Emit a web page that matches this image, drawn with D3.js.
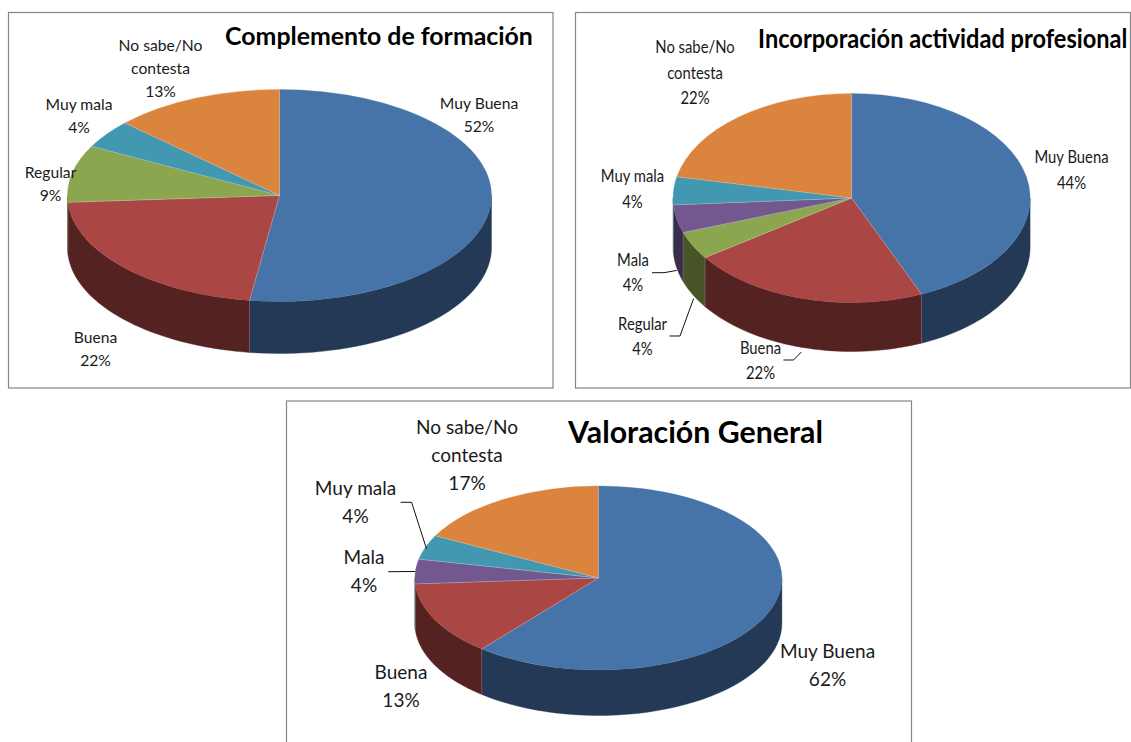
<!DOCTYPE html>
<html lang="es">

<head>
    <meta charset="UTF-8">
    <title>Valoración</title>
    <script src="https://d3js.org/d3.v7.min.js"></script>
    <style>
        body { margin: 0; background: #fff; }
        svg { display: block; }
        text { font-family: Lato, "Open Sans", sans-serif; fill: #1a1a1a; }
    </style>
</head>

<body>
    <div id="container"></div>

    <script type="text/javascript">

        // data: vals = slice sizes as drawn, pcts = what the labels print
        const complementoTitle = "Complemento de formación";
        const complementoCats = ["Muy Buena", "Buena", "Regular", "Muy mala", "No sabe/No contesta"];
        const complementoVals = [52.2, 21.7, 8.7, 4.3, 13];
        const complementoPcts = [52, 22, 9, 4, 13];

        const incorporacionTitle = "Incorporación actividad profesional";
        const incorporacionCats = ["Muy Buena", "Buena", "Regular", "Mala", "Muy mala", "No sabe/No contesta"];
        const incorporacionVals = [43.5, 21.7, 4.3, 4.3, 4.3, 21.7];
        const incorporacionPcts = [44, 22, 4, 4, 4, 22];

        const generalTitle = "Valoración General";
        const generalCats = ["Muy Buena", "Buena", "Mala", "Muy mala", "No sabe/No contesta"];
        const generalVals = [60.9, 13, 4.3, 4.3, 17.4];
        const generalPcts = [62, 13, 4, 4, 17];

        // category order of the whole figure, drives the colour scales
        const allCats = ["Muy Buena", "Buena", "Regular", "Mala", "Muy mala", "No sabe/No contesta"];
        const topColors = ["#4673a8", "#aa4644", "#8ba64f", "#72588e", "#4198b0", "#db843d"];
        const sideColors = ["#233955", "#552222", "#465427", "#3a2d4b", "#204c58", "#6e421e"];

        const colorTop = d3.scaleOrdinal().domain(allCats).range(topColors);
        const colorSide = d3.scaleOrdinal().domain(allCats).range(sideColors);

        // layout of every panel. label = centre x, y of first line for each slice
        const charts = [
            {
                title: complementoTitle, cats: complementoCats, vals: complementoVals, pcts: complementoPcts,
                frame: [8.5, 12.5, 544.5, 375.5],
                cx: 279.5, cy: 195.5, rx: 212, ry: 106, depth: 52,
                titleBox: [225, 533, 37], titleSize: 24,
                fontSize: 15.5, refWidth: 84, lineStep: 23,
                labels: [[479, 104], [95.5, 337.5], [50.5, 172.5], [79, 105], [160.5, 46]],
                leaders: []
            },
            {
                title: incorporacionTitle, cats: incorporacionCats, vals: incorporacionVals, pcts: incorporacionPcts,
                frame: [575.5, 12.5, 555, 375.5],
                cx: 851.6, cy: 198, rx: 178.5, ry: 104.5, depth: 49,
                titleBox: [758, 1127.5, 40], titleSize: 26,
                fontSize: 17, refWidth: 79.5, lineStep: 25.5,
                labels: [[1071.5, 157.5], [760.5, 348], [642.5, 324], [633, 260], [632.5, 176.5], [695, 47.5]],
                leaders: [
                    { slice: 2, end: [1, 4], knee: [[669.5, 336], [680, 336]] },
                    { slice: 3, end: [0, 2.5], knee: [[652, 272.7], [664, 272.7]] },
                    { slice: 1, end: [-1, 4.7], knee: [[783.5, 360], [793.5, 360]] }
                ]
            },
            {
                title: generalTitle, cats: generalCats, vals: generalVals, pcts: generalPcts,
                frame: [286.5, 401, 625, 400],
                cx: 598.4, cy: 578, rx: 183.5, ry: 92, depth: 45.5,
                titleBox: [568, 823, 433.5], titleSize: 31,
                fontSize: 19.5, refWidth: 102, lineStep: 28,
                labels: [[827.5, 652], [401, 673], [364, 558], [355.5, 489], [467, 427.5]],
                leaders: [
                    { slice: 2, end: [0, 0], knee: [[388.3, 571.7]], top: true },
                    { slice: 3, end: [1, 1.5], knee: [[400.6, 502.3], [411.6, 502.3]], top: true }
                ]
            }
        ];

        const W = 1131, H = 742;

        const svg = d3.select("#container")
            .append("svg")
            .attr("width", W)
            .attr("height", H);

        const pie = d3.pie().sort(null).value(d => d.value);

        // centred text squeezed horizontally by a factor
        function squeezed(parent, t, x, y, size, factor) {
            return parent.append("text")
                .attr("transform", "translate(" + x + "," + y + ") scale(" + factor + ",1)")
                .attr("dy", "-0.06em")
                .attr("text-anchor", "middle")
                .attr("dominant-baseline", "central")
                .style("font-size", size + "px")
                .text(t);
        }

        charts.forEach(function (c) {
            const g = svg.append("g");

            g.append("rect")
                .attr("x", c.frame[0])
                .attr("y", c.frame[1])
                .attr("width", c.frame[2])
                .attr("height", c.frame[3])
                .attr("fill", "#fff")
                .attr("stroke", "#868686")
                .attr("stroke-width", 1.2);

            const slices = pie(c.cats.map((name, i) => ({ name: name, value: c.vals[i], pct: c.pcts[i] })));

            // point on the rim for a clock angle
            const rim = a => [c.cx + c.rx * Math.sin(a), c.cy - c.ry * Math.cos(a)];

            // side wall, only the front half of the ellipse shows
            const outline = d3.line();
            slices.forEach(function (s) {
                const a0 = Math.max(s.startAngle, Math.PI / 2);
                const a1 = Math.min(s.endAngle, Math.PI * 1.5);
                if (a1 <= a0) return;
                const steps = d3.range(0, 41).map(k => a0 + (a1 - a0) * k / 40);
                const upper = steps.map(rim);
                const lower = upper.map(p => [p[0], p[1] + c.depth]).reverse();
                g.append("path")
                    .attr("d", outline(upper.concat(lower)) + "Z")
                    .attr("fill", colorSide(s.data.name))
                    .attr("stroke", colorSide(s.data.name))
                    .attr("stroke-width", 0.4);
            });

            // top face: a flat d3 arc squashed into an ellipse
            const arc = d3.arc().innerRadius(0).outerRadius(c.rx);
            const face = g.append("g")
                .attr("transform", "translate(" + c.cx + "," + c.cy + ") scale(1," + (c.ry / c.rx) + ")");
            face.selectAll("path")
                .data(slices)
                .enter()
                .append("path")
                .attr("d", arc)
                .attr("fill", d => colorTop(d.data.name))
                .attr("stroke", d => colorTop(d.data.name))
                .attr("stroke-width", 0.4);

            // thin pale seams between the slices
            slices.forEach(function (s) {
                const p = rim(s.startAngle);
                g.append("line")
                    .attr("x1", c.cx).attr("y1", c.cy)
                    .attr("x2", p[0]).attr("y2", p[1])
                    .attr("stroke", "#d5dbe4").attr("stroke-opacity", 0.5).attr("stroke-width", 0.7);
                if (Math.cos(s.startAngle) < 0) {
                    g.append("line")
                        .attr("x1", p[0]).attr("y1", p[1])
                        .attr("x2", p[0]).attr("y2", p[1] + c.depth)
                        .attr("stroke", "#d5dbe4").attr("stroke-opacity", 0.3).attr("stroke-width", 0.7);
                }
            });

            // leader lines, from the knee to the wall of the slice
            c.leaders.forEach(function (l) {
                const s = slices[l.slice];
                const p = rim((s.startAngle + s.endAngle) / 2);
                const endPoint = [p[0] + l.end[0], p[1] + l.end[1] + (l.top ? 0 : c.depth)];
                g.append("path")
                    .attr("d", outline(l.knee.concat([endPoint])))
                    .attr("fill", "none")
                    .attr("stroke", "#111")
                    .attr("stroke-width", 1);
            });

            // horizontal squeeze: same for all labels of a panel, taken from "No sabe/No"
            const probe = g.append("text").style("font-size", c.fontSize + "px").text("No sabe/No");
            const factor = c.refWidth / probe.node().getComputedTextLength();
            probe.remove();

            slices.forEach(function (s, i) {
                const words = s.data.name === "No sabe/No contesta" ? ["No sabe/No", "contesta"] : [s.data.name];
                const lines = words.concat([s.data.pct + "%"]);
                lines.forEach(function (t, k) {
                    squeezed(g, t, c.labels[i][0], c.labels[i][1] + k * c.lineStep, c.fontSize, factor);
                });
            });

            // title
            const titleX = (c.titleBox[0] + c.titleBox[1]) / 2;
            const title = squeezed(g, c.title, titleX, c.titleBox[2], c.titleSize, 1)
                .style("font-weight", "700")
                .style("fill", "#000");
            const titleFactor = (c.titleBox[1] - c.titleBox[0]) / title.node().getComputedTextLength();
            title.attr("transform", "translate(" + titleX + "," + c.titleBox[2] + ") scale(" + titleFactor + ",1)");
        });

    </script>
</body>

</html>
